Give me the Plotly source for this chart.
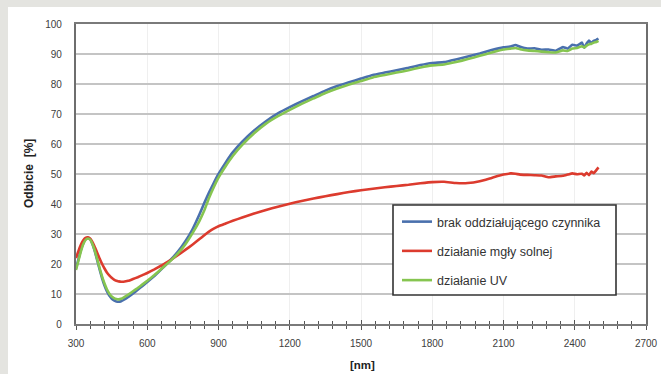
import plotly.graph_objects as go

wavelength = [300, 310, 320, 330, 340, 350, 360, 370, 380, 390, 400, 410, 420, 430, 440, 450, 460, 470, 480, 490,
              500, 520, 540, 560, 580, 600, 630, 660, 700, 730, 760, 790, 820, 840, 860, 880, 900, 930, 960, 1000,
              1050, 1100, 1150, 1200, 1250, 1300, 1350, 1400, 1450, 1500, 1550, 1600, 1650, 1700, 1750, 1800, 1850,
              1900, 1950, 2000, 2050, 2100, 2130, 2150, 2170, 2200, 2230, 2260, 2290, 2320, 2350, 2370, 2390, 2410,
              2430, 2440, 2450, 2460, 2470, 2480, 2490, 2500]

brak = [18.5, 21.5, 24.5, 26.8, 28.2, 28.7, 28.2, 26.5, 24.0, 21.0, 18.0, 15.2, 12.8, 10.9, 9.5, 8.5, 7.9, 7.5, 7.4, 7.6,
        8.0, 9.0, 10.2, 11.4, 12.7, 14.0, 16.0, 18.3, 21.5, 24.2, 27.5, 31.5, 36.6, 40.3, 43.8, 47.0, 50.0, 53.8, 57.2, 60.8,
        64.5, 67.6, 70.2, 72.3, 74.2, 76.0, 77.8, 79.3, 80.6, 81.8, 83.0, 83.8, 84.6, 85.4, 86.3, 87.0, 87.3,
        88.2, 89.2, 90.2, 91.3, 92.2, 92.5, 93.0, 92.4, 91.8, 91.9, 91.4, 91.5, 91.1, 92.3, 91.8, 93.1, 92.8,
        93.8, 92.1, 93.5, 94.5, 93.6, 94.4, 94.7, 95.1]

mgla = [22.0, 24.3, 26.3, 27.8, 28.7, 28.9, 28.4, 27.2, 25.5, 23.6, 21.7, 20.0, 18.5, 17.2, 16.2, 15.4, 14.8, 14.4, 14.2, 14.1,
        14.1, 14.4, 15.0, 15.6, 16.3, 17.0, 18.2, 19.5, 21.4, 23.0, 24.7, 26.4, 28.3, 29.6, 30.8, 31.8, 32.6, 33.5, 34.4, 35.5,
        36.8, 38.0, 39.1, 40.1, 41.0, 41.8, 42.6, 43.3, 44.0, 44.6, 45.1, 45.6, 46.0, 46.4, 46.9, 47.3, 47.4,
        47.0, 47.0, 47.6, 48.7, 49.8, 50.2, 50.1, 49.8, 49.7, 49.6, 49.5, 48.9, 49.2, 49.4, 49.8, 50.2, 49.9,
        50.1, 49.5, 50.4, 49.6, 50.8, 50.3, 51.2, 52.2]

uv = [18.0, 21.0, 24.0, 26.5, 28.0, 28.5, 28.1, 26.5, 24.2, 21.4, 18.5, 15.8, 13.5, 11.6, 10.2, 9.2, 8.6, 8.3, 8.2, 8.4,
      8.8, 9.8, 10.9, 12.0, 13.2, 14.4, 16.3, 18.4, 21.2, 23.6, 26.5, 30.2, 34.4, 37.8, 42.0, 45.6, 48.8, 52.6, 56.0, 59.7,
      63.6, 66.8, 69.3, 71.4, 73.4, 75.2, 77.0, 78.5, 79.8, 81.0, 82.2, 83.0, 83.8, 84.6, 85.5, 86.2, 86.5,
      87.3, 88.3, 89.4, 90.5, 91.5, 91.8, 92.0, 91.6, 91.2, 91.0, 90.8, 90.6, 90.5, 91.2, 91.0, 91.8, 92.0,
      92.6, 92.2, 92.8, 93.2, 93.4, 93.8, 94.0, 94.4]

series_names = ["brak oddziałującego czynnika", "działanie mgły solnej", "działanie UV"]
series_colors = ["#4a70ad", "#dc3b2e", "#86c550"]
x_ticks = [300, 600, 900, 1200, 1500, 1800, 2100, 2400, 2700]
y_ticks = [0, 10, 20, 30, 40, 50, 60, 70, 80, 90, 100]
x_title = "[nm]"
y_title = "Odbicie  [%]"

FONT = "Liberation Sans, Arial, sans-serif"

fig = go.Figure()
for i, (name, vals) in enumerate(zip(series_names, [brak, mgla, uv])):
    fig.add_trace(go.Scatter(
        x=wavelength, y=vals, mode="lines", name=name,
        line=dict(color=series_colors[i], width=2.6, shape="spline", smoothing=0.3),
        legendgroup=f"g{i}", hoverinfo="x+y"))

# invisible trace to carry the overlay axis (inside half of crossing ticks)
fig.add_trace(go.Scatter(x=[300], y=[None], xaxis="x2", yaxis="y", showlegend=False, hoverinfo="skip"))

W, H = 661, 374
L, R, T, B = 76, 15, 24, 50
pw, ph = W - L - R, H - T - B

def px(xp):
    return (xp - L) / pw

def py(yp):
    return (H - B - yp) / ph

fig.update_layout(
    width=W, height=H,
    margin=dict(l=L, r=R, t=T, b=B),
    paper_bgcolor="#e4e4e0",
    plot_bgcolor="white",
    font=dict(family=FONT, size=10, color="#404040"),
    showlegend=True,
    legend=dict(x=px(397), y=py(207), xanchor="left", yanchor="top",
                bgcolor="rgba(0,0,0,0)", borderwidth=0,
                font=dict(family=FONT, size=12.5, color="#333333"),
                tracegroupgap=10, itemwidth=30),
    xaxis=dict(range=[300, 2700], tickvals=x_ticks, ticktext=[str(v) for v in x_ticks],
               automargin=False,
               showgrid=True, gridcolor="#efefef", gridwidth=1,
               showline=True, linecolor="#7a7a7a", linewidth=1.6, mirror=True,
               ticks="outside", ticklen=4, tickcolor="#555555", tickwidth=1.2,
               minor=dict(dtick=60, tick0=300, ticks="outside", ticklen=3, tickcolor="#555555", tickwidth=1.2, showgrid=False),
               zeroline=False, ticklabelstandoff=5,
               tickfont=dict(family=FONT, size=10, color="#404040")),
    xaxis2=dict(range=[300, 2700], overlaying="x", anchor="y", side="bottom", automargin=False,
                tickvals=x_ticks, showticklabels=False, showgrid=False, showline=False, zeroline=False,
                ticks="inside", ticklen=4, tickcolor="#555555", tickwidth=1.2,
                minor=dict(dtick=60, tick0=300, ticks="inside", ticklen=3, tickcolor="#555555", tickwidth=1.2, showgrid=False)),
    yaxis=dict(range=[0, 100], tickvals=y_ticks, showgrid=True, gridcolor="#c4c4c4", gridwidth=1.6,
               automargin=False,
               showline=True, linecolor="#6e6e6e", linewidth=2.2, mirror=True,
               ticks="", zeroline=False, ticklabelstandoff=10,
               tickfont=dict(family=FONT, size=10, color="#404040")),
    shapes=[
        dict(type="rect", xref="paper", yref="paper", x0=px(8), x1=px(661), y0=py(374), y1=py(7),
             fillcolor="white", line=dict(width=0), layer="below"),
        dict(type="rect", xref="paper", yref="paper", x0=px(393), x1=px(616), y0=py(295), y1=py(205),
             fillcolor="white", line=dict(color="#333333", width=1.6), layer="above"),
    ],
    annotations=[
        dict(text=f"<b>{x_title}</b>", xref="paper", yref="paper", x=px(362), y=py(365),
             xanchor="center", yanchor="middle", showarrow=False,
             font=dict(family=FONT, size=11.5, color="#222222")),
        dict(text=f"<b>{y_title}</b>", xref="paper", yref="paper", x=px(29), y=py(173),
             xanchor="center", yanchor="middle", showarrow=False, textangle=-90,
             font=dict(family=FONT, size=12, color="#222222")),
    ],
)

fig.write_html("out.html", config={"displayModeBar": False},
               post_script="document.body.style.margin='0';document.body.style.background='#e4e4e0';")
